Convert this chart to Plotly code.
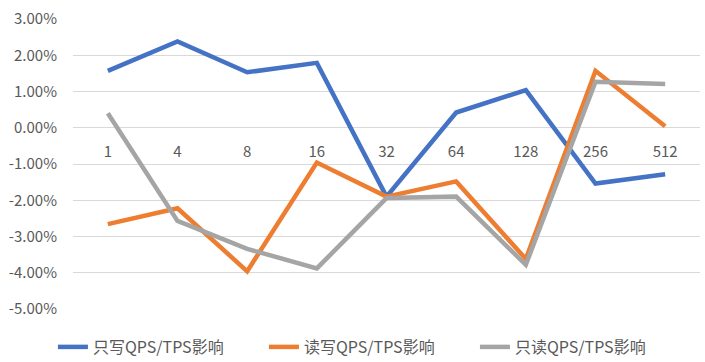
import plotly.graph_objects as go

categories = ["1", "4", "8", "16", "32", "64", "128", "256", "512"]
write_only = [1.57, 2.38, 1.53, 1.79, -1.90, 0.42, 1.04, -1.54, -1.28]
read_write = [-2.66, -2.22, -3.96, -0.96, -1.90, -1.48, -3.62, 1.57, 0.04]
read_only = [0.40, -2.57, -3.34, -3.88, -1.94, -1.90, -3.78, 1.27, 1.21]
series_names = ["只写QPS/TPS影响", "读写QPS/TPS影响", "只读QPS/TPS影响"]
colors = ["#4472C4", "#ED7D31", "#A5A5A5"]
y_ticks = [3, 2, 1, 0, -1, -2, -3, -4, -5]
y_tick_labels = ["%.2f%%" % v for v in y_ticks]

fig = go.Figure()
for name, vals, c in zip(series_names, [write_only, read_write, read_only], colors):
    fig.add_trace(go.Scatter(
        x=categories, y=vals, name=name, mode="lines",
        line=dict(color=c, width=4.5),
    ))

font_family = "Noto Sans CJK SC, Noto Sans, sans-serif"
fig.update_layout(
    width=705, height=362,
    margin=dict(l=73, r=5, t=19, b=53, autoexpand=False),
    paper_bgcolor="white", plot_bgcolor="white",
    font=dict(family=font_family, size=14, color="#595959"),
    showlegend=True,
    legend=dict(orientation="h", x=-0.032, xanchor="left", entrywidth=166,
                y=-0.131, yanchor="middle", font=dict(size=16, color="#595959"),
                traceorder="normal"),
    xaxis=dict(type="category", range=[-0.5, 8.5], anchor="free", position=0.625,
               showgrid=False, showline=False, zeroline=False, automargin=False,
               ticks="outside", ticklen=10, tickcolor="rgba(0,0,0,0)", tickangle=0,
               tickfont=dict(size=15, color="#595959")),
    yaxis=dict(range=[-5, 3], tickvals=y_ticks, ticktext=y_tick_labels,
               showgrid=True, gridcolor="#D9D9D9", gridwidth=1.3, automargin=False,
               zeroline=False, showline=False, ticklabelstandoff=15,
               tickfont=dict(size=15, color="#595959")),
)

fig.write_html("out.html", config={"displayModeBar": False},
               post_script="document.body.style.margin='0';document.body.style.overflow='hidden';")
